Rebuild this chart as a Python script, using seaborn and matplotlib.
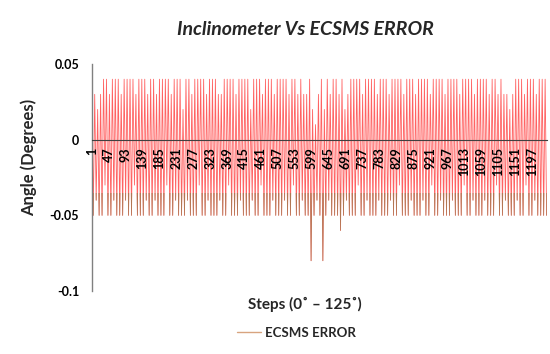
import numpy as np
import pandas as pd
import matplotlib
matplotlib.use("Agg")
import matplotlib.pyplot as plt
import seaborn as sns
from matplotlib.patches import Rectangle
from matplotlib.lines import Line2D

# -----------------------------------------------
# Data (upper and lower swing of each oscillation)
# -----------------------------------------------
peaks = [
    0.04, 0.03, 0.02, 0.03, 0.04, 0.04, 0.03, 0.04, 0.04, 0.04, 0.03, 0.04, 0.04, 0.04, 0.04, 0.03, 0.04, 0.04, 0.04, 0.03,
    0.04, 0.04, 0.03, 0.04, 0.04, 0.04, 0.04, 0.03, 0.04, 0.04, 0.04, 0.02, 0.04, 0.04, 0.03, 0.04, 0.04, 0.04, 0.04, 0.03,
    0.04, 0.04, 0.04, 0.03, 0.03, 0.04, 0.04, 0.04, 0.04, 0.03, 0.04, 0.04, 0.04, 0.04, 0.02, 0.04, 0.04, 0.04, 0.03, 0.04,
    0.04, 0.04, 0.03, 0.04, 0.04, 0.04, 0.04, 0.03, 0.04, 0.04, 0.03, 0.04, 0.03, 0.03, 0.04, 0.02, 0.01, 0.03, 0.04, 0.02,
    0.04, 0.03, 0.04, 0.04, 0.03, 0.04, 0.02, 0.03, 0.04, 0.04, 0.04, 0.04, 0.03, 0.04, 0.04, 0.04, 0.04, 0.03, 0.04, 0.04,
    0.04, 0.03, 0.04, 0.04, 0.04, 0.04, 0.03, 0.04, 0.04, 0.04, 0.03, 0.04, 0.04, 0.04, 0.04, 0.03, 0.04, 0.04, 0.04, 0.04,
    0.03, 0.04, 0.04, 0.04, 0.04, 0.03, 0.04, 0.04, 0.04, 0.04, 0.03, 0.04, 0.04, 0.04, 0.04, 0.03, 0.04, 0.04, 0.03, 0.04,
    0.03, 0.03, 0.02, 0.03, 0.04, 0.04, 0.04, 0.03, 0.04, 0.04, 0.04, 0.03, 0.04, 0.04, 0.04,
]
troughs = [
    -0.05, -0.04, -0.05, -0.05, -0.03, -0.05, -0.05, -0.04, -0.05, -0.05, -0.05, -0.04, -0.05, -0.05, -0.03, -0.05, -0.05, -0.05, -0.04, -0.05,
    -0.05, -0.04, -0.05, -0.05, -0.05, -0.03, -0.05, -0.05, -0.04, -0.05, -0.05, -0.05, -0.04, -0.05, -0.05, -0.05, -0.03, -0.05, -0.05, -0.04,
    -0.05, -0.05, -0.05, -0.04, -0.05, -0.05, -0.03, -0.05, -0.05, -0.05, -0.04, -0.05, -0.05, -0.05, -0.04, -0.05, -0.05, -0.03, -0.05, -0.05,
    -0.05, -0.04, -0.05, -0.05, -0.05, -0.04, -0.05, -0.05, -0.03, -0.05, -0.05, -0.04, -0.05, -0.05, -0.08, -0.05, -0.04, -0.05, -0.08, -0.05,
    -0.04, -0.05, -0.05, -0.05, -0.06, -0.05, -0.04, -0.05, -0.05, -0.05, -0.03, -0.05, -0.05, -0.04, -0.05, -0.05, -0.05, -0.04, -0.05, -0.05,
    -0.05, -0.04, -0.05, -0.05, -0.03, -0.05, -0.05, -0.05, -0.04, -0.05, -0.05, -0.05, -0.04, -0.05, -0.05, -0.03, -0.05, -0.05, -0.04, -0.05,
    -0.05, -0.05, -0.04, -0.05, -0.05, -0.05, -0.03, -0.05, -0.05, -0.04, -0.05, -0.05, -0.05, -0.04, -0.05, -0.05, -0.05, -0.03, -0.05, -0.05,
    -0.04, -0.05, -0.05, -0.05, -0.04, -0.05, -0.05, -0.03, -0.05, -0.05, -0.04, -0.05, -0.05, -0.05, -0.05,
]
tick_steps = np.arange(1, 1240, 46)          # 1, 47, 93 ... 1197
y_ticks = [-0.1, -0.05, 0, 0.05]
y_labels = ["-0.1", "-0.05", "0", "0.05"]

# one swing every 4 steps (peak, trough, peak, ...)
peak_steps = 1 + 8 * np.arange(len(peaks))
trough_steps = peak_steps + 4
steps = np.empty(2 * len(peaks))
vals = np.empty(2 * len(peaks))
steps[0::2], steps[1::2] = peak_steps, trough_steps
vals[0::2], vals[1::2] = peaks, troughs
df = pd.DataFrame({"step": steps, "error": vals})

# -----------------------------------------------
# Plot
# -----------------------------------------------
sns.set_theme(style="white")
plt.rcParams["font.family"] = ["Lato", "DejaVu Sans"]

fig = plt.figure(figsize=(5.5, 3.54), dpi=100)
ax = fig.add_axes([0.1665, 0.178, 0.828, 0.641])

# red line over the whole range, lower part overdrawn in brown (gradient look)
sns.lineplot(data=df, x="step", y="error", color="#ff2020", lw=0.6, alpha=0.7,
             sort=False, estimator=None, ax=ax)
sns.lineplot(data=df, x="step", y="error", color="#a07c50", lw=0.5, alpha=0.85,
             sort=False, estimator=None, ax=ax)
brown_line = ax.lines[1]
brown_line.set_clip_path(Rectangle((-100, -0.3), 1500, 0.265, transform=ax.transData))

ax.set_xlim(0.5, 1238)
ax.set_ylim(-0.1, 0.05)
ax.set_xlabel("")
ax.set_ylabel("")
ax.set_axisbelow(False)

# spines first: moving the bottom spine resets the ticks
for s in ["top", "right"]:
    ax.spines[s].set_visible(False)
ax.spines["bottom"].set_position(("data", 0))
ax.spines["bottom"].set_color("#404040")
ax.spines["bottom"].set_linewidth(0.8)
ax.spines["left"].set_color("#808080")
ax.spines["left"].set_linewidth(1.0)

ax.set_xticks(tick_steps)
ax.set_xticklabels([str(t) for t in tick_steps], rotation=90)
ax.set_yticks(y_ticks)
ax.set_yticklabels(y_labels)
ax.tick_params(axis="x", length=0, pad=5.5, labelsize=9)
ax.tick_params(axis="y", length=0, pad=9, labelsize=9)
for lbl in ax.get_xticklabels() + ax.get_yticklabels():
    lbl.set_fontweight("bold")
    lbl.set_color("black")

fig.text(0.556, 0.918, "Inclinometer Vs ECSMS ERROR", ha="center", va="center",
         fontsize=14, fontweight="bold", style="italic")
fig.text(0.053, 0.556, "Angle (Degrees)", rotation=90, ha="center", va="center",
         fontsize=12, fontweight="bold")
fig.text(0.555, 0.141, "Steps (0˚ – 125˚)", ha="center", va="center",
         fontsize=11, fontweight="bold")

fig.legend(handles=[Line2D([0], [0], color="#d8a47f", lw=1)], labels=["ECSMS ERROR"],
           loc="center", bbox_to_anchor=(0.539, 0.059), frameon=False,
           prop={"weight": "bold", "size": 9.5}, handlelength=1.8, handletextpad=0.3)

fig.savefig("out.png", dpi=100)
